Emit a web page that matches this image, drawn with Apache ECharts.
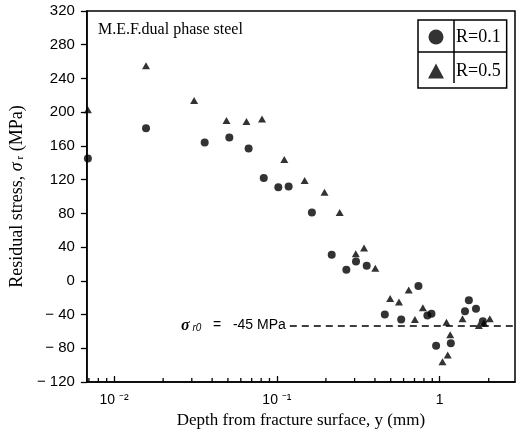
<!DOCTYPE html>
<html>
<head>
<meta charset="utf-8">
<script src="https://cdn.jsdelivr.net/npm/echarts@6/dist/echarts.min.js"></script>
<style>
  html, body { margin: 0; padding: 0; background: #fff; }
  #chart { width: 521px; height: 434px; }
</style>
</head>
<body>
<div id="chart"></div>
<script>
// R=0.1 (circles)
const r01Depth = [0.0069, 0.0157, 0.036, 0.051, 0.067, 0.083, 0.102, 0.118, 0.164, 0.217,
  0.267, 0.306, 0.356, 0.46, 0.58, 0.74, 0.84, 0.89, 0.95, 1.17, 1.43, 1.51, 1.67, 1.84];
const r01Stress = [145, 181, 164, 170, 157, 122, 111, 112, 81, 31,
  13, 23, 18, -40, -46, -6, -41, -39, -77, -74, -36, -23, -33, -48];
// R=0.5 (triangles)
const r05Depth = [0.0069, 0.0157, 0.031, 0.049, 0.065, 0.081, 0.111, 0.148, 0.196, 0.243,
  0.305, 0.343, 0.402, 0.496, 0.562, 0.645, 0.704, 0.788, 1.10, 1.16, 1.12, 1.04,
  1.38, 1.74, 1.87, 2.03];
const r05Stress = [203, 255, 214, 190, 189, 192, 144, 119, 105, 81,
  32, 39, 15, -21, -25, -11, -46, -32, -49, -64, -88, -96,
  -45, -53, -50, -45];
// minor ticks of the log axis
const minorTicks = [0.007, 0.008, 0.009, 0.02, 0.03, 0.04, 0.05, 0.06, 0.07, 0.08, 0.09,
  0.2, 0.3, 0.4, 0.5, 0.6, 0.7, 0.8, 0.9, 2];
const majorLabels = { "0.01": "10 ⁻²", "0.1": "10 ⁻¹", "1": "1" };
const sigmaR0 = -53;   // where the dashed line sits in the picture
const dashStart = 0.12;

const xMin = 0.0068, xMax = 2.9;

const myChart = echarts.init(document.getElementById("chart"));

function pairs(xs, ys) {
  return xs.map((x, i) => [x, ys[i]]);
}

myChart.setOption({
  animation: false,
  backgroundColor: "#fff",
  title: {
    text: "M.E.F.dual phase steel",
    left: 93,
    top: 17,
    textStyle: { fontFamily: "Liberation Serif", fontSize: 16, fontWeight: "normal", color: "#000" }
  },
  legend: {
    left: 418,
    top: 20,
    orient: "vertical",
    data: [
      { name: "R=0.1", icon: "circle" },
      { name: "R=0.5", icon: "triangle" }
    ],
    itemWidth: 16,
    itemHeight: 15,
    itemGap: 16,
    padding: [8, 6, 8, 10],
    borderColor: "#000",
    borderWidth: 1.5,
    borderRadius: 0,
    textStyle: { fontFamily: "Liberation Serif", fontSize: 18, color: "#000", padding: [0, 0, 0, 7] }
  },
  graphic: [
    { type: "line", shape: { x1: 454, y1: 20, x2: 454, y2: 83 }, style: { stroke: "#000", lineWidth: 1.5 } },
    { type: "line", shape: { x1: 418, y1: 52, x2: 507, y2: 52 }, style: { stroke: "#000", lineWidth: 1.5 } }
  ],
  grid: {
    left: 83,
    right: 6,
    top: 11,
    bottom: 52,
    show: true,
    borderColor: "#000",
    borderWidth: 1.5
  },
  xAxis: {
    type: "log",
    min: xMin,
    max: xMax,
    name: "Depth from fracture surface, y (mm)",
    nameLocation: "middle",
    nameGap: 30,
    nameTextStyle: { fontFamily: "Liberation Serif", fontSize: 17, color: "#000" },
    axisLine: { show: true, onZero: false, lineStyle: { color: "#000", width: 1.5 } },
    axisTick: { show: true, inside: true, length: 6, lineStyle: { color: "#000", width: 1.3 } },
    axisLabel: {
      margin: 11,
      showMinLabel: false,
      showMaxLabel: false,
      fontFamily: "Liberation Sans",
      fontSize: 14,
      color: "#000",
      formatter: function (v) {
        const key = String(Math.round(v * 1000) / 1000);
        return majorLabels[key] || "";
      }
    },
    splitLine: { show: false }
  },
  yAxis: {
    type: "value",
    min: -120,
    max: 320,
    interval: 40,
    name: "Residual stress, {i|σ}{sub| r} (MPa)",
    nameLocation: "middle",
    nameGap: 58,
    nameTextStyle: {
      fontFamily: "Liberation Serif", fontSize: 18, color: "#000",
      rich: {
        i: { fontFamily: "Liberation Serif", fontStyle: "italic", fontSize: 18, color: "#000" },
        sub: { fontFamily: "Liberation Serif", fontSize: 11, color: "#000", verticalAlign: "bottom", padding: [6, 0, 0, 0] }
      }
    },
    axisLine: { show: true, onZero: false, lineStyle: { color: "#000", width: 1.5 } },
    axisTick: { show: true, inside: false, length: 6, lineStyle: { color: "#000", width: 1.3 } },
    axisLabel: {
      margin: 12,
      fontFamily: "Liberation Sans",
      fontSize: 15,
      color: "#000",
      formatter: function (v) {
        return v < 0 ? "− " + Math.abs(v) : String(v);
      }
    },
    splitLine: { show: false }
  },
  series: [
    {
      name: "R=0.1",
      type: "scatter",
      symbol: "circle",
      symbolSize: 8,
      clip: false,
      itemStyle: { color: "#000" },
      data: pairs(r01Depth, r01Stress),
      markLine: {
        silent: true,
        symbol: "none",
        lineStyle: { color: "#000", type: [7, 5], width: 1.5 },
        label: {
          show: true,
          position: "start",
          distance: 4,
          fontFamily: "Liberation Sans",
          fontSize: 14,
          color: "#000",
          formatter: "{i|σ}{sub| r0}   =   -45 MPa",
          rich: {
            i: { fontFamily: "Liberation Serif", fontStyle: "italic", fontWeight: "bold", fontSize: 16, color: "#000" },
            sub: { fontFamily: "Liberation Sans", fontStyle: "italic", fontSize: 10, color: "#000", padding: [6, 0, 0, 0] }
          }
        },
        data: [[{ coord: [dashStart, sigmaR0] }, { coord: [xMax, sigmaR0] }]]
      }
    },
    {
      name: "R=0.5",
      type: "scatter",
      symbol: "triangle",
      symbolSize: [8, 7],
      clip: false,
      itemStyle: { color: "#000" },
      data: pairs(r05Depth, r05Stress)
    },
    {
      name: "minorTicks",
      type: "custom",
      silent: true,
      clip: false,
      data: minorTicks.map(v => [v, -120]),
      renderItem: function (params, api) {
        const p = api.coord([api.value(0), api.value(1)]);
        return {
          type: "line",
          shape: { x1: p[0], y1: p[1], x2: p[0], y2: p[1] - 4 },
          style: { stroke: "#000", lineWidth: 1.3 }
        };
      }
    }
  ]
});
</script>
</body>
</html>
